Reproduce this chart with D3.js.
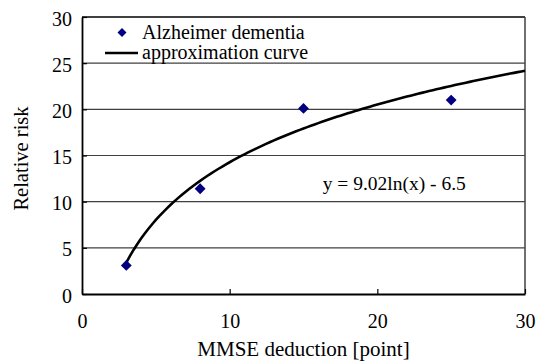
<!DOCTYPE html>
<html>
<head>
<meta charset="utf-8">
<script src="https://cdn.jsdelivr.net/npm/d3@7"></script>
<style>
  body { margin: 0; background: #fff; }
  svg text { font-family: "Liberation Serif", "Times New Roman", "DejaVu Serif", serif; }
</style>
</head>
<body>
<div id="chart"></div>
<script>
// data
var mmse = [3, 8, 15, 25];
var risk = [3.1, 11.4, 20.1, 21.0];
// trend line y = a ln(x) + b as printed on the chart
var fitA = 9.02;
var fitB = -6.5;
var xTicks = [0, 10, 20, 30];
var yTicks = [0, 5, 10, 15, 20, 25, 30];
var seriesNames = ["Alzheimer dementia", "approximation curve"];
var equationLabel = "y = 9.02ln(x) - 6.5";

var width = 542, height = 361;
var margin = { top: 17, right: 17, bottom: 67, left: 82 };
var plotW = width - margin.left - margin.right;
var plotH = height - margin.top - margin.bottom;

var svg = d3.select('#chart').append('svg')
  .attr('width', width)
  .attr('height', height);

var x = d3.scaleLinear().domain([0, 30]).range([0, plotW]);
var y = d3.scaleLinear().domain([0, 30]).range([plotH, 0]);

var g = svg.append('g')
  .attr('transform', 'translate(' + margin.left + ',' + margin.top + ')');

// horizontal gridlines
g.selectAll('.grid')
  .data(yTicks.filter(function (d) { return d > 0 && d < 30; }))
  .enter().append('line')
  .attr('x1', 0).attr('x2', plotW)
  .attr('y1', function (d) { return y(d); })
  .attr('y2', function (d) { return y(d); })
  .attr('stroke', '#404040')
  .attr('stroke-width', 1.2);

// plot frame
g.append('line').attr('x1', 0).attr('x2', plotW).attr('y1', 0).attr('y2', 0)
  .attr('stroke', '#000').attr('stroke-width', 1.5);
g.append('line').attr('x1', plotW).attr('x2', plotW).attr('y1', 0).attr('y2', plotH)
  .attr('stroke', '#404040').attr('stroke-width', 1.5);

// axes with inward ticks
var xAxis = g.append('g')
  .attr('transform', 'translate(0,' + plotH + ')')
  .call(d3.axisBottom(x).tickValues(xTicks).tickSize(-5).tickPadding(14).tickSizeOuter(0));
var yAxis = g.append('g')
  .call(d3.axisLeft(y).tickValues(yTicks).tickSize(-5).tickPadding(10).tickSizeOuter(0));

[xAxis, yAxis].forEach(function (a) {
  a.attr('font-family', null).attr('font-size', null);
  a.select('.domain').attr('stroke', '#000').attr('stroke-width', 1.8);
  a.selectAll('.tick line').attr('stroke', '#000').attr('stroke-width', 1.2);
  a.selectAll('.tick text')
    .style('font-size', '20px')
    .attr('fill', '#000');
});
xAxis.selectAll('.tick text').attr('dy', '1em');
yAxis.selectAll('.tick text').attr('dy', '0.4em');

// approximation curve from x=3 to x=30
var curveXs = d3.range(mmse[0], 30.01, 0.25);
var line = d3.line()
  .x(function (d) { return x(d); })
  .y(function (d) { return y(fitA * Math.log(d) + fitB); });
g.append('path')
  .datum(curveXs)
  .attr('d', line)
  .attr('fill', 'none')
  .attr('stroke', '#000')
  .attr('stroke-width', 2.6);

// diamonds
var diamond = d3.symbol().type(d3.symbolDiamond2).size(75);
g.selectAll('.pt')
  .data(mmse)
  .enter().append('path')
  .attr('d', diamond)
  .attr('transform', function (d, i) { return 'translate(' + x(d) + ',' + y(risk[i]) + ')'; })
  .attr('fill', '#000080');

// equation text
g.append('text')
  .attr('x', x(16.3))
  .attr('y', y(11.25))
  .style('font-size', '19.5px')
  .text(equationLabel);

// legend
var legend = svg.append('g');
legend.append('path')
  .attr('d', d3.symbol().type(d3.symbolDiamond2).size(52))
  .attr('transform', 'translate(122,32.5)')
  .attr('fill', '#000080');
legend.append('text').attr('x', 142).attr('y', 38.5)
  .style('font-size', '20px')
  .text(seriesNames[0]);
legend.append('line').attr('x1', 105).attr('x2', 138).attr('y1', 53).attr('y2', 53)
  .attr('stroke', '#000').attr('stroke-width', 2.6);
legend.append('text').attr('x', 142).attr('y', 58.5)
  .style('font-size', '20px')
  .text(seriesNames[1]);

// axis titles
svg.append('text')
  .attr('x', margin.left + plotW / 2)
  .attr('y', 356)
  .attr('text-anchor', 'middle')
  .style('font-size', '21px')
  .text('MMSE deduction [point]');
svg.append('text')
  .attr('transform', 'translate(28,' + (margin.top + plotH / 2 + 3) + ') rotate(-90)')
  .attr('text-anchor', 'middle')
  .style('font-size', '20.5px')
  .text('Relative risk');
</script>
</body>
</html>
